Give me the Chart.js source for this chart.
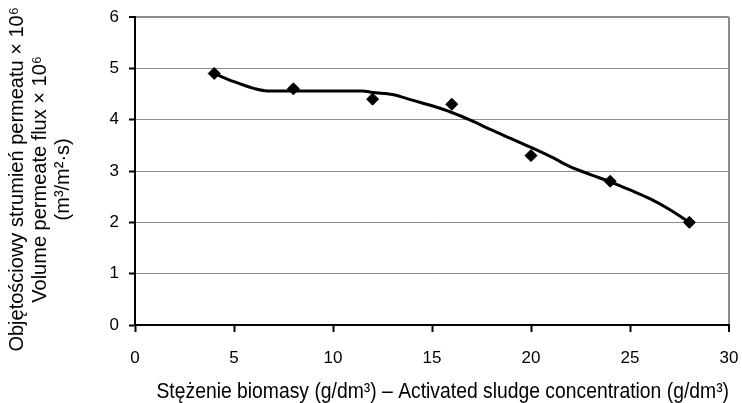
<!DOCTYPE html>
<html>
<head>
<meta charset="utf-8">
<script src="https://cdn.jsdelivr.net/npm/chart.js@4.4.0/dist/chart.umd.min.js"></script>
<style>
  html, body { margin: 0; padding: 0; background: #fff; overflow: hidden; }
  #wrap { width: 742px; height: 403px; position: relative; }
  canvas { display: block; }
</style>
</head>
<body>
<div id="wrap"><canvas id="fluxChart"></canvas></div>
<script>
// measured points
const concentration = [4, 8, 12, 16, 20, 24, 28];
const flux = [4.9, 4.6, 4.4, 4.3, 3.3, 2.8, 2.0];

// hand-drawn trend curve
const trendX = [4, 5, 6, 6.7, 8, 10, 11.5, 12, 13, 14, 15, 16, 17, 18, 19, 20, 21, 22, 23, 24, 25, 26, 27, 28];
const trendY = [4.9, 4.74, 4.61, 4.56, 4.56, 4.56, 4.56, 4.53, 4.49, 4.38, 4.27, 4.14, 3.98, 3.8, 3.63, 3.46, 3.28, 3.08, 2.93, 2.79, 2.63, 2.46, 2.25, 2.0];

const xTicks = [0, 5, 10, 15, 20, 25, 30];
const yTicks = [0, 1, 2, 3, 4, 5, 6];

// leading / trailing spaces nudge the titles off the plot centre like in the original
const xTitle = '    Stężenie biomasy (g/dm³) – Activated sludge concentration (g/dm³)';
const yTitle = [
    'Objętościowy strumień permeatu × 10⁶   ',
    'Volume permeate flux × 10⁶   ',
    '(m³/m²·s)   '
];

Chart.defaults.font.family = 'Liberation Sans, Arial, sans-serif';
Chart.defaults.color = '#000';

const points = concentration.map((c, i) => ({ x: c, y: flux[i] }));
const trend = trendX.map((c, i) => ({ x: c, y: trendY[i] }));

const ctx = document.getElementById('fluxChart').getContext('2d');
const fluxChart = new Chart(ctx, {
    type: 'scatter',
    data: {
        datasets: [
            {
                data: points,
                pointStyle: 'rectRot',
                pointRadius: 6,
                backgroundColor: '#000',
                borderColor: '#000',
                borderWidth: 1,
                showLine: false
            },
            {
                data: trend,
                showLine: true,
                borderColor: '#000',
                borderWidth: 3,
                pointRadius: 0,
                tension: 0.4,
                cubicInterpolationMode: 'monotone'
            }
        ]
    },
    options: {
        responsive: true,
        maintainAspectRatio: false,
        animation: false,
        layout: { padding: { left: 0, right: 13, top: 17, bottom: 0 } },
        plugins: { legend: { display: false }, tooltip: { enabled: false } },
        scales: {
            x: {
                type: 'linear',
                min: 0,
                max: 30,
                afterBuildTicks: axis => { axis.ticks = xTicks.map(v => ({ value: v })); },
                afterFit: axis => {
                    axis.height = 78;
                    // ticks.padding gets added to the side padding, keep the plot wide
                    axis.paddingLeft = 0;
                    axis.paddingRight = 13;
                },
                ticks: { font: { size: 17 }, padding: 16, maxRotation: 0 },
                grid: {
                    color: c => (c.tick && c.tick.value === 30 ? '#8c8c8c' : 'rgba(0,0,0,0)'),
                    lineWidth: c => (c.tick && c.tick.value === 30 ? 2 : 1),
                    tickColor: '#000',
                    tickWidth: 2,
                    tickLength: 7
                },
                border: { color: '#000', width: 2 },
                title: {
                    display: true,
                    text: xTitle,
                    font: { size: 21.5, lineHeight: 1 },
                    padding: { top: 0, bottom: 0 }
                }
            },
            y: {
                type: 'linear',
                min: 0,
                max: 6,
                afterBuildTicks: axis => { axis.ticks = yTicks.map(v => ({ value: v })); },
                afterFit: axis => {
                    axis.width = 135;
                    axis.paddingTop = 0;
                    axis.paddingBottom = 0;
                },
                ticks: { font: { size: 17 }, padding: 10 },
                grid: {
                    color: '#8c8c8c',
                    lineWidth: c => (c.tick && c.tick.value === 6 ? 2 : 1),
                    tickColor: '#000',
                    tickWidth: 2,
                    tickLength: 6
                },
                border: { color: '#000', width: 2 },
                title: {
                    display: true,
                    text: yTitle,
                    font: { size: 20, lineHeight: '23px' },
                    padding: { top: 6, bottom: 0 }
                }
            }
        }
    }
});
</script>
</body>
</html>
